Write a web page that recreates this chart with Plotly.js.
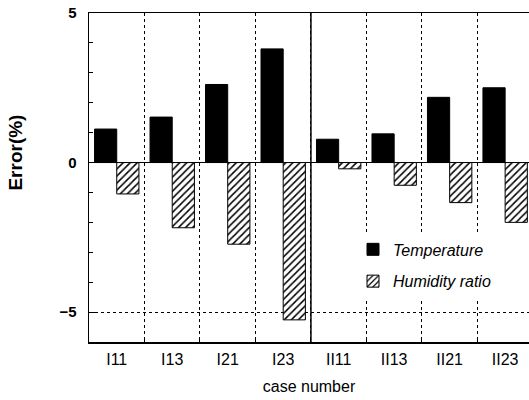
<!DOCTYPE html>
<html>
<head>
<meta charset="utf-8">
<script src="https://cdn.plot.ly/plotly-3.0.1.min.js"></script>
<style>html,body{margin:0;padding:0;background:#fff;overflow:hidden}</style>
</head>
<body>
<div id="chart" style="width:529px;height:400px"></div>
<script>
var categories = ["I11", "I13", "I21", "I23", "II11", "II13", "II21", "II23"];
var temperature = [1.12, 1.52, 2.61, 3.80, 0.78, 0.96, 2.18, 2.50];
var humidity = [-1.05, -2.18, -2.73, -5.26, -0.21, -0.76, -1.34, -2.00];
var seriesNames = ["Temperature", "Humidity ratio"];
var yTicks = [-5, 0, 5];

var FONT = "Liberation Sans, Arial, sans-serif";

var traces = [
  {
    type: "bar", name: seriesNames[0], x: categories, y: temperature,
    legendgroup: "a",
    marker: {color: "#000", line: {color: "#000", width: 1}}
  },
  {
    type: "bar", name: seriesNames[1], x: categories, y: humidity,
    legendgroup: "b",
    marker: {
      color: "#fff",
      line: {color: "#000", width: 1},
      pattern: {shape: "/", fgcolor: "#000", bgcolor: "#fff", size: 5, solidity: 0.3}
    }
  }
];

// solid divider between group I and group II
var firstII = categories.findIndex(function(c){ return c.indexOf("II") === 0; });

var layout = {
  width: 529, height: 400,
  margin: {l: 89, r: 0, t: 13, b: 58},
  paper_bgcolor: "#fff", plot_bgcolor: "#fff",
  barmode: "group", bargap: 0.2, bargroupgap: 0,
  showlegend: true,
  legend: {
    x: 0.6, y: 0.333, xanchor: "left", yanchor: "top",
    bgcolor: "#fff", borderwidth: 0,
    traceorder: "grouped", tracegroupgap: 8,
    font: {family: FONT, size: 16, color: "#000", style: "italic"}
  },
  xaxis: {
    type: "category",
    range: [-0.5, categories.length - 0.57],
    tickson: "boundaries",
    ticks: "inside", ticklen: 4, tickcolor: "#000",
    showgrid: true, gridcolor: "#000", griddash: "dot", gridwidth: 1,
    showline: true, linecolor: "#000", linewidth: 1.5, mirror: true,
    tickfont: {family: FONT, size: 16, color: "#000"},
    ticklabelstandoff: 2,
    title: {text: "case number", font: {family: FONT, size: 16, color: "#000"}, standoff: 14}
  },
  yaxis: {
    range: [-6, 5],
    tickvals: yTicks,
    ticks: "inside", ticklen: 6, tickcolor: "#000",
    minor: {dtick: 1, ticks: "inside", ticklen: 4, tickcolor: "#000", showgrid: false},
    showgrid: true, gridcolor: "#000", griddash: "dot", gridwidth: 1,
    zeroline: true, zerolinecolor: "#000", zerolinewidth: 1,
    showline: true, linecolor: "#000", linewidth: 1.5, mirror: false,
    tickfont: {family: FONT, size: 15, color: "#000", weight: "bold"},
    ticklabelstandoff: 8
  },
  shapes: [
    {type: "line", xref: "x", yref: "paper", x0: firstII - 0.5, x1: firstII - 0.5, y0: 0, y1: 1,
     line: {color: "#000", width: 1.5}}
  ],
  annotations: [
    {text: "Error(%)", xref: "paper", yref: "paper", x: -0.168, y: 0.576,
     textangle: -90, showarrow: false, xanchor: "center", yanchor: "middle",
     font: {family: FONT, size: 19, color: "#000", weight: "bold"}}
  ]
};

Plotly.newPlot("chart", traces, layout, {displayModeBar: false, staticPlot: true});
</script>
</body>
</html>
